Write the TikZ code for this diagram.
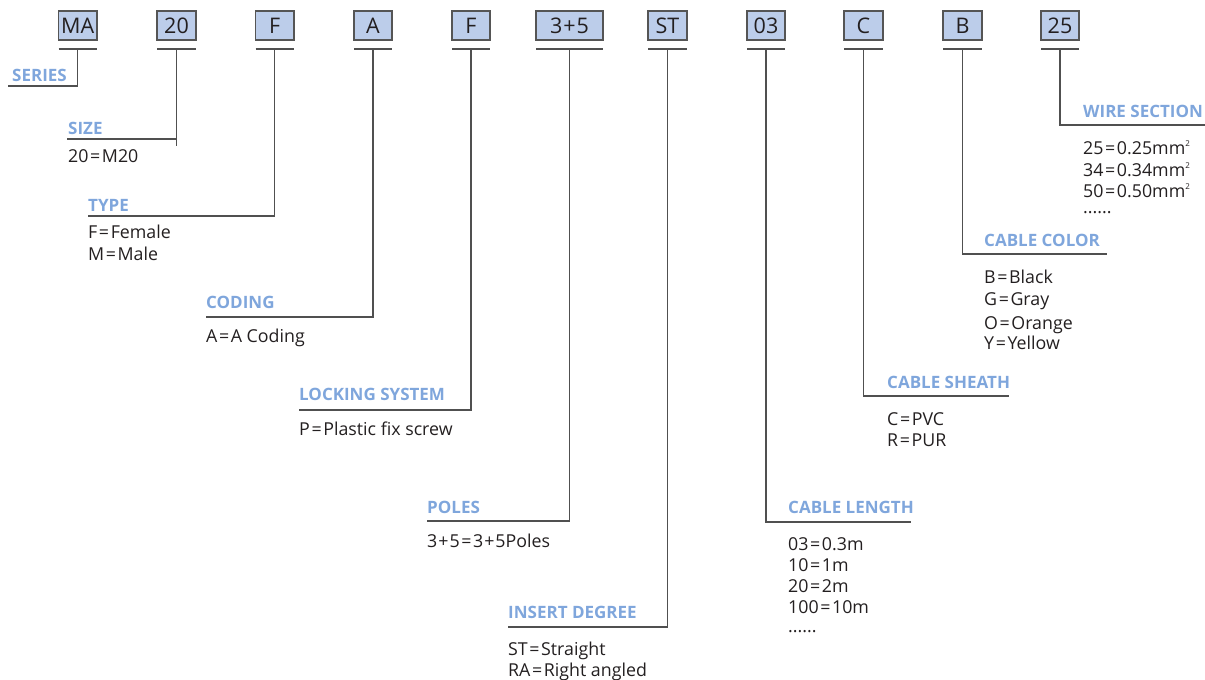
\documentclass[tikz,border=0pt]{standalone}
\usepackage{fontspec}
\setmainfont{Open Sans}
\definecolor{boxfill}{HTML}{BCCDEA}
\definecolor{boxline}{HTML}{555555}
\definecolor{conncol}{HTML}{505050}
\definecolor{hdrcol}{HTML}{7FA6DC}
\definecolor{txtcol}{HTML}{231F20}
\tikzset{
  codebox/.style={draw=boxline, line width=1.2pt, fill=boxfill, inner sep=0pt,
    minimum height=29pt, text=txtcol, font=\fontsize{21.5}{24}\selectfont},
  bar/.style={draw=conncol, line width=1.2pt},
  conn/.style={draw=conncol, line width=1.3pt},
  hdr/.style={anchor=base west, inner sep=0pt, text=hdrcol,
    font=\fontsize{17}{20}\selectfont\bfseries},
  body/.style={anchor=base west, inner sep=0pt, text=txtcol,
    font=\fontsize{17.8}{20}\selectfont},
}
\newcommand{\sqsup}{\raisebox{8pt}{\fontsize{8}{9}\selectfont 2}}
\newcommand{\eq}{\kern1.6pt=\kern1.6pt}
\newcommand{\pl}{\kern1pt+\kern1pt}
\begin{document}
\begin{tikzpicture}[x=1pt,y=-1pt]
\useasboundingbox (0,0) rectangle (1205,680);
% boxes
\foreach \nm/\xa/\xb/\lab in {ma/58.5/97/MA, b20/157/196/20, bFa/255.5/294/F, bA/354/392/A,
  bFb/452/490/F, bTF/536/603/3\pl5, bST/648/687/ST, bZT/747/785/03, bC/844/883/C,
  bB/943/982/B, bTW/1041/1079/25}{
  \node[codebox, minimum width={(\xb-\xa)*1pt}] (\nm) at ({(\xa+\xb)/2},25.5) {\lab};
  \coordinate (\nm-bl) at (\xa,49);
  \coordinate (\nm-br) at (\xb,49);
  \coordinate (\nm-bc) at ({(\xa+\xb)/2},49);
  \draw[bar] (\nm-bl) -- (\nm-br);
}
% header corner coordinates
\coordinate (serL) at (8,86);
\coordinate (sizL) at (67,139);
\coordinate (sizE) at (176.5,146);
\coordinate (typL) at (88,216);
\coordinate (codL) at (206,317);
\coordinate (lokL) at (299,410);
\coordinate (polL) at (427,521);
\coordinate (insL) at (508,627);
\coordinate (lenR) at (911,522);
\coordinate (shtR) at (1009,396);
\coordinate (colR) at (1107,254);
\coordinate (wirR) at (1205,125);
% connectors
\draw[conn] (ma-bc) |- (serL);
\draw[conn] (b20-bc) -- (b20-bc |- sizE);
\draw[conn] (b20-bc |- sizL) -- (sizL);
\draw[conn] (bFa-bc) |- (typL);
\draw[conn] (bA-bc) |- (codL);
\draw[conn] (bFb-bc) |- (lokL);
\draw[conn] (bTF-bc) |- (polL);
\draw[conn] (bST-bc) |- (insL);
\draw[conn] (bZT-bc) |- (lenR);
\draw[conn] (bC-bc) |- (shtR);
\draw[conn] (bB-bc) |- (colR);
\draw[conn] (bTW-bc) |- (wirR);
% headers
\node[hdr] (hser) at (12,81) {SERIES};
\node[hdr] (hsiz) at (68,134) {SIZE};
\node[hdr] (htyp) at (88,211) {TYPE};
\node[hdr] (hcod) at (206,308) {CODING};
\node[hdr] (hlok) at (299,400) {LOCKING SYSTEM};
\node[hdr] (hpol) at (427,513) {POLES};
\node[hdr] (hins) at (508,618) {INSERT DEGREE};
\node[hdr] (hlen) at (788,513) {CABLE LENGTH};
\node[hdr] (hsht) at (887,388) {CABLE SHEATH};
\node[hdr] (hcol) at (984,246) {CABLE COLOR};
\node[hdr] (hwir) at (1083,117) {WIRE SECTION};
% bodies
\node[body] (s1) at (68,162) {20\eq M20};
\node[body] (t1) at (88,238) {F\eq Female};
\node[body] (t2) at (88,260) {M\eq Male};
\node[body] (c1) at (206,342) {A\eq A Coding};
\node[body] (l1) at (299,435) {P\eq Plastic fix screw};
\node[body] (p1) at (427,547) {3\pl5\eq 3\pl5Poles};
\node[body] (i1) at (508,655) {ST\eq Straight};
\node[body] (i2) at (508,676) {RA\eq Right angled};
\node[body] (n1) at (788,550) {03\eq 0.3m};
\node[body] (n2) at (788,571) {10\eq 1m};
\node[body] (n3) at (788,592) {20\eq 2m};
\node[body] (n4) at (788,613) {100\eq 10m};
\node[body] (n5) at (788,632) {......};
\node[body] (h1) at (887,425) {C\eq PVC};
\node[body] (h2) at (887,446) {R\eq PUR};
\node[body] (k1) at (984,283) {B\eq Black};
\node[body] (k2) at (984,305) {G\eq Gray};
\node[body] (k3) at (984,329) {O\eq Orange};
\node[body] (k4) at (984,349) {Y\eq Yellow};
\node[body] (w1) at (1083,154) {25\eq 0.25mm\sqsup};
\node[body] (w2) at (1083,176) {34\eq 0.34mm\sqsup};
\node[body] (w3) at (1083,197) {50\eq 0.50mm\sqsup};
\node[body] (w4) at (1083,213) {......};
\end{tikzpicture}
\end{document}
